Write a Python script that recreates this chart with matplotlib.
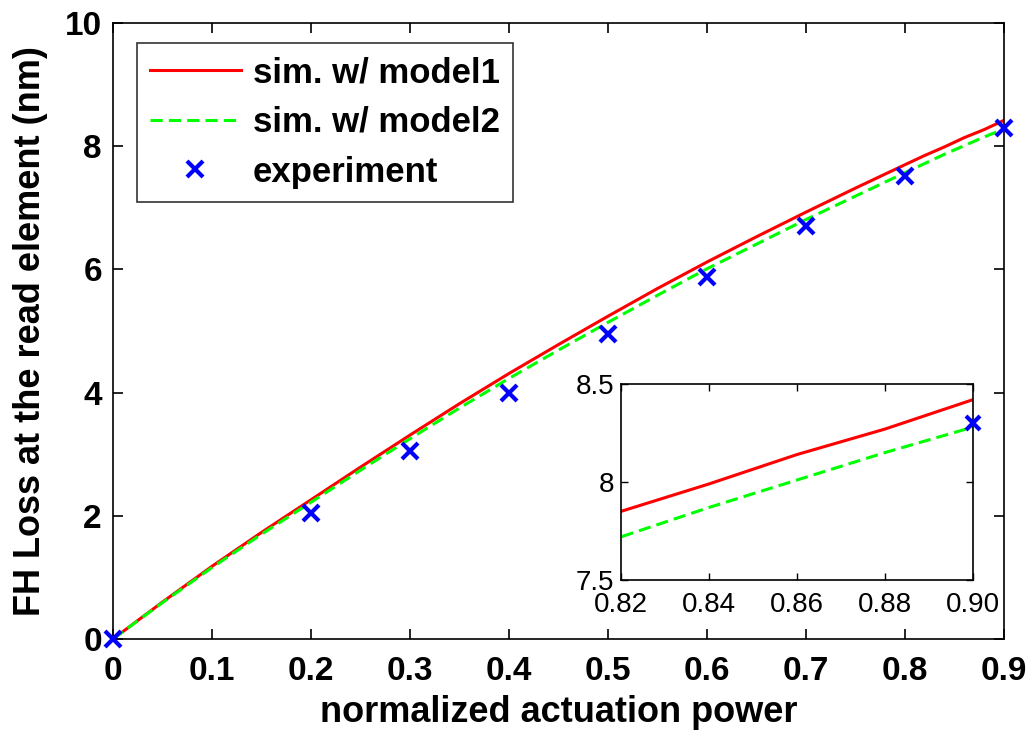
import numpy as np
import matplotlib
matplotlib.use("Agg")
import matplotlib.pyplot as plt

plt.rcParams['font.family'] = ['Liberation Sans', 'DejaVu Sans']

# simulated fly-height loss vs normalized actuation power
power = [0, 0.05, 0.1, 0.15, 0.2, 0.25, 0.3, 0.35, 0.4, 0.45, 0.5, 0.55,
         0.6, 0.65, 0.7, 0.75, 0.8, 0.82, 0.84, 0.86, 0.88, 0.9]
model1 = [0, 0.6, 1.18, 1.73, 2.26, 2.79, 3.31, 3.82, 4.31, 4.78, 5.24, 5.69,
          6.12, 6.53, 6.93, 7.32, 7.70, 7.85, 7.99, 8.14, 8.27, 8.42]
model2 = [0, 0.59, 1.16, 1.70, 2.22, 2.74, 3.25, 3.75, 4.23, 4.69, 5.14, 5.58,
          6.01, 6.41, 6.81, 7.19, 7.57, 7.72, 7.87, 8.01, 8.15, 8.28]

# measurements
exp_power = [0, 0.2, 0.3, 0.4, 0.5, 0.6, 0.7, 0.8, 0.9]
exp_loss = [0, 2.05, 3.05, 4.0, 4.95, 5.88, 6.71, 7.52, 8.3]

main_xticks = [0, 0.1, 0.2, 0.3, 0.4, 0.5, 0.6, 0.7, 0.8, 0.9]
main_xlabels = ['0', '0.1', '0.2', '0.3', '0.4', '0.5', '0.6', '0.7', '0.8', '0.9']
main_yticks = [0, 2, 4, 6, 8, 10]
inset_xticks = [0.82, 0.84, 0.86, 0.88, 0.90]
inset_xlabels = ['0.82', '0.84', '0.86', '0.88', '0.90']
inset_yticks = [7.5, 8, 8.5]
inset_ylabels = ['7.5', '8', '8.5']

RED = '#ff0000'
GREEN = '#00ff00'
BLUE = '#0000ff'
DASH = (0, (4, 2))

fig = plt.figure(figsize=(10.32, 7.30), dpi=100)
fig.patch.set_facecolor('white')

ax = fig.add_axes([0.1095, 0.1247, 0.8634, 0.8438])
ax.plot(power, model1, color=RED, lw=2.2, label='sim. w/ model1')
ax.plot(power, model2, color=GREEN, lw=2.2, ls=DASH, label='sim. w/ model2')
ax.plot(exp_power, exp_loss, ls='none', marker='x', ms=11, mew=3,
        color=BLUE, clip_on=False, zorder=5, label='experiment')

ax.set_xlim(0, 0.9)
ax.set_ylim(0, 10)
ax.set_xticks(main_xticks)
ax.set_xticklabels(main_xlabels)
ax.set_yticks(main_yticks)
ax.tick_params(direction='in', top=True, right=True, length=7, width=1.2,
               labelsize=24)
ax.tick_params(axis='x', pad=12)
ax.tick_params(axis='y', pad=8)
for lab in ax.get_xticklabels() + ax.get_yticklabels():
    lab.set_fontweight('bold')
for sp in ax.spines.values():
    sp.set_linewidth(1.2)

ax.set_xlabel('normalized actuation power', fontsize=26, fontweight='bold', labelpad=6)
ax.set_ylabel('FH Loss at the read element (nm)', fontsize=26, fontweight='bold', labelpad=12)

leg = ax.legend(loc='upper left', bbox_to_anchor=(0.027, 0.9675), borderaxespad=0,
                prop={'weight': 'bold', 'size': 25}, frameon=True, fancybox=False,
                edgecolor='black', handlelength=2.6, handletextpad=0.35,
                borderpad=0.38, labelspacing=0.48)
leg.get_frame().set_linewidth(1.2)

# zoomed inset near the top end of the range
ins = fig.add_axes([0.6017, 0.2055, 0.3411, 0.2685])
ins.plot(power, model1, color=RED, lw=2.2)
ins.plot(power, model2, color=GREEN, lw=2.2, ls=DASH)
ep = np.array(exp_power)
el = np.array(exp_loss)
keep = ep >= 0.82
ins.plot(ep[keep], el[keep], ls='none', marker='x', ms=10, mew=3,
         color=BLUE, clip_on=False, zorder=5)
ins.set_xlim(0.82, 0.90)
ins.set_ylim(7.5, 8.5)
ins.set_xticks(inset_xticks)
ins.set_xticklabels(inset_xlabels)
ins.set_yticks(inset_yticks)
ins.set_yticklabels(inset_ylabels)
ins.tick_params(direction='in', top=True, right=True, length=5, width=1.0,
                labelsize=20)
ins.tick_params(axis='x', pad=9)
ins.tick_params(axis='y', pad=5)
for sp in ins.spines.values():
    sp.set_linewidth(1.2)

fig.savefig('out.png', dpi=100)
plt.close(fig)
